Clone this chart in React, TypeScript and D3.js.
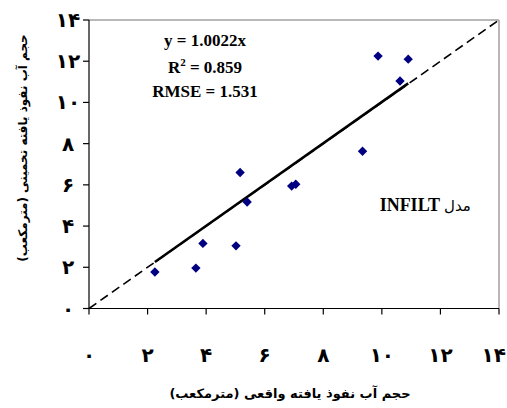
import React from "react";
import * as d3 from "d3";

const observed = [2.25, 3.65, 3.89, 5.02, 5.16, 5.4, 6.92, 7.06, 9.34, 9.87, 10.62, 10.9];
const estimated = [1.77, 1.96, 3.16, 3.04, 6.6, 5.17, 5.94, 6.03, 7.63, 12.25, 11.04, 12.1];
const tickValues = [0, 2, 4, 6, 8, 10, 12, 14];
const tickLabels = ["۰", "۲", "۴", "۶", "۸", "۱۰", "۱۲", "۱۴"];
const slope = 1.0022;
const statLines = ["y = 1.0022x", "R2 = 0.859", "RMSE = 1.531"];
const xTitle = "حجم آب نفوذ یافته واقعی (مترمکعب)";
const yTitle = "حجم آب نفوذ یافته تخمینی (مترمکعب)";

const W = 507, H = 408;
const left = 89, right = 499, top = 20, bottom = 308.5;

export default function App() {
  const x = d3.scaleLinear().domain([0, 14]).range([left, right]);
  const y = d3.scaleLinear().domain([0, 14]).range([bottom, top]);
  const serif = "'Liberation Serif', 'Times New Roman', 'DejaVu Sans', serif";
  const arab = "'DejaVu Sans', 'Noto Sans', sans-serif";
  const xmin = d3.min(observed)!;
  const xmax = d3.max(observed)!;
  const line = d3.line<[number, number]>().x(d => x(d[0])).y(d => y(d[1]));
  const diamond = d3.symbol().type(d3.symbolDiamond2).size(56)()!;
  return (
    <svg width={W} height={H} style={{ position: "absolute", left: 0, top: 0 }}>
      <rect x={0} y={0} width={W} height={H} fill="#fff" />
      {/* frame */}
      <line x1={left} x2={right} y1={top} y2={top} stroke="#a0a0a0" strokeWidth={1.5} />
      <line x1={right} x2={right} y1={top} y2={bottom} stroke="#a0a0a0" strokeWidth={1.5} />
      {/* 1:1 dashed line */}
      <path d={line([[0, 0], [14, 14]])!} stroke="#000" strokeWidth={1.6} strokeDasharray="9,5" fill="none" />
      {/* fit line */}
      <path d={line([[xmin, slope * xmin], [xmax, slope * xmax]])!} stroke="#000" strokeWidth={2.6} fill="none" />
      {/* axes */}
      <line x1={left} x2={right} y1={bottom} y2={bottom} stroke="#000" strokeWidth={1.2} />
      <line x1={left} x2={left} y1={top} y2={bottom} stroke="#000" strokeWidth={1.2} />
      {tickValues.map((t, i) => {
        const last = i === tickValues.length - 1;
        return (
          <g key={"x" + i}>
            <line x1={x(t)} x2={x(t)} y1={bottom} y2={bottom + 6} stroke="#000" strokeWidth={1.2} />
            <text x={last ? W - 1 : x(t)} y={bottom + 53} textAnchor={last ? "end" : "middle"} fontFamily={arab} fontWeight="bold" fontSize={20}>{tickLabels[i]}</text>
          </g>
        );
      })}
      {tickValues.map((t, i) => (
        <g key={"y" + i}>
          <line x1={left - 6} x2={left} y1={y(t)} y2={y(t)} stroke="#000" strokeWidth={1.2} />
          <text x={68} y={y(t)} dy="0.35em" textAnchor="middle" fontFamily={arab} fontWeight="bold" fontSize={20}>{tickLabels[i]}</text>
        </g>
      ))}
      {observed.map((o, i) => (
        <path key={"p" + i} d={diamond} transform={`translate(${x(o)},${y(estimated[i])})`} fill="#000080" />
      ))}
      {/* statistics */}
      <text x={205} y={46} textAnchor="middle" fontFamily={serif} fontWeight="bold" fontSize={17}>{statLines[0]}</text>
      <text x={205} y={73} textAnchor="middle" fontFamily={serif} fontWeight="bold" fontSize={17}>
        R<tspan dy={-7} fontSize={11}>2</tspan><tspan dy={7}> = 0.859</tspan>
      </text>
      <text x={205} y={97} textAnchor="middle" fontFamily={serif} fontWeight="bold" fontSize={17}>{statLines[2]}</text>
      {/* model label */}
      <text x={440} y={211} textAnchor="end" fontFamily={serif} fontWeight="bold" fontSize={18}>INFILT</text>
      <text x={444} y={211} textAnchor="start" fontFamily={arab} fontSize={15}>مدل</text>
      {/* axis titles */}
      <text x={290} y={398} textAnchor="middle" fontFamily={arab} fontWeight="bold" fontSize={13} direction="rtl">{xTitle}</text>
      <text transform={`translate(27,148) rotate(-90)`} textAnchor="middle" fontFamily={arab} fontWeight="bold" fontSize={12} direction="rtl">{yTitle}</text>
    </svg>
  );
}
